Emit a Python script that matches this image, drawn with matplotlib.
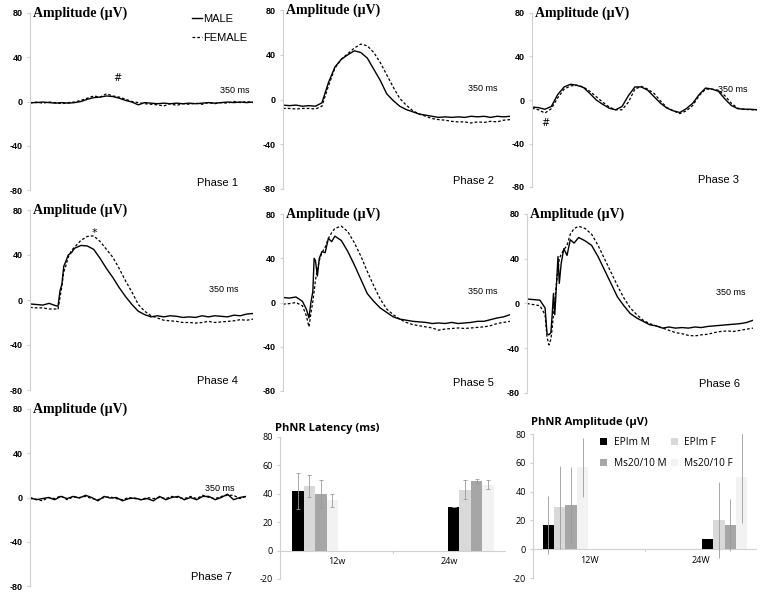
import matplotlib
matplotlib.use("Agg")
import matplotlib.pyplot as plt
import numpy as np

# ---------------- waveform data (amplitude in uV, time in ms) ----------------
t_grid = list(range(0, 351, 10))

p1_male = [-1, -1, -0.5, -1, -1.5, -1, -1.5, -1, 0, 2, 3.5, 4, 5, 4.5, 3, 1, -0.5, -3,
           -1, -1.5, -2, -1.5, -2, -1.5, -2, -1.5, -2, -1.5, -1, -1.5, -1, -0.5, -1, -0.5, -1, -0.5]
p1_female = [-1.5, -0.5, -1.5, -0.5, -1, -2, -1, -0.5, 1, 3, 5, 4, 7, 5, 4, 2, 0, -1,
             -2, -2.5, -3, -4, -2, -3.5, -2, -2.5, -1.5, -2.5, -1, -2, -1, -1.5, 0, -1, 0, -1]

p2_male = [-5, -5.5, -5, -6, -5.5, -6, -3, 15, 29, 36, 40, 43.5, 42, 37, 27, 17, 5, -1,
           -6, -9, -11, -13, -14, -15, -16, -15.5, -16, -15.5, -16, -15, -15.5, -15, -16, -15, -15.5, -15]
p2_female = [-8, -8, -8.5, -8, -8, -8.5, -6, 12, 28, 36, 41, 46, 49.5, 48, 42, 33, 22, 11,
             1, -5, -10, -13, -15, -17, -18, -18.5, -19.5, -20, -20, -21, -20, -20.5, -19.5, -20, -18.5, -18]

p3_male = [-6.5, -7, -8.5, -6, 5, 12, 14.5, 13.5, 11.5, 6, 0, -4, -7.5, -9, -6, 4, 12, 12,
           9, 3, -3, -7.5, -10, -11.5, -8, -3, 5, 11, 10, 8, 1, -5, -8, -8.5, -8.5, -9]
p3_female = [-7.5, -9, -12, -8, 2, 10, 13, 13.5, 12, 8, 3, -2, -6.5, -9, -9, -2, 10, 12.5,
             10, 6, -1, -7, -10, -12.5, -10, -5, 4, 10, 10, 9, 4, -3, -7.5, -8.5, -9, -9]

t_p4 = [0, 10, 20, 30, 40, 44, 47, 50, 53, 56, 60, 65, 70, 80, 90, 100, 110, 120, 130, 140,
        150, 160, 170, 180, 190, 200, 210, 220, 230, 240, 250, 260, 270, 280, 290, 300, 310,
        320, 330, 340, 350]
p4_male = [-3.5, -4, -4.5, -3, -5, -5.5, 8, 14, 30, 34, 40, 42, 46, 48.5, 48, 45, 37, 28, 20, 11,
           3, -4, -10, -13, -15, -14, -15, -14, -14.5, -15.5, -15, -15.5, -14, -15, -14, -14.5, -15,
           -13.5, -14, -12.5, -12]
p4_female = [-6.5, -7, -7, -8, -8, -8.5, 2, 12, 25, 30, 38, 44, 47, 53, 56.5, 57, 52, 45, 38, 28,
             17, 7, -4, -10, -14, -16, -18, -18.5, -19, -20, -20, -20.5, -20, -19, -20, -19.5, -19,
             -18.5, -17.5, -18, -17]

t_p5 = [0, 10, 20, 30, 36, 40, 43, 46, 48, 50, 53, 56, 60, 65, 70, 75, 80, 90, 100, 110, 120,
        130, 140, 150, 160, 170, 180, 190, 200, 210, 220, 230, 240, 250, 260, 270, 280, 290,
        300, 310, 320, 330, 340, 350]
p5_male = [4.5, 4, 5, 1, -6, -14, 0, 10, 40, 38, 24, 40, 46, 45, 58, 55, 60, 56, 46, 34, 21,
           8, 1, -5, -9, -13, -15, -16, -17, -17.5, -18, -19, -18.5, -19, -18, -19, -18.5, -18,
           -17, -17, -15.5, -14, -13, -11]
p5_female = [-1.5, -1, 0, -3, -12, -22, -10, 1, 10, 20, 30, 38, 45, 50, 58, 63, 67, 69, 64, 54, 42,
             28, 15, 3, -6, -11, -15, -18, -20, -21, -22, -23, -25, -24, -23.5, -23, -23.5, -23,
             -22.5, -22, -21, -19, -18, -17]

t_p6 = [0, 10, 20, 28, 31, 34, 37, 39, 41, 43, 45, 48, 50, 53, 57, 62, 67, 73, 80, 90, 100,
        110, 120, 130, 140, 150, 160, 170, 180, 190, 200, 210, 220, 230, 240, 250, 260, 270,
        280, 290, 300, 310, 320, 330, 340, 350]
p6_male = [4, 3.5, 3, -4, -27, -28, -26, -10, 9, -10, 10, 42, 18, 36, 49, 43, 57, 54, 59, 56, 52,
           42, 30, 18, 6, -2, -9, -13, -16, -19, -20, -22, -21, -22, -21.5, -22, -21, -21.5,
           -20.5, -20, -19.5, -19, -18.5, -18, -17, -15]
p6_female = [0, -1, -2, -10, -30, -37, -32, -22, -10, 2, 15, 30, 40, 44, 48, 52, 62, 67, 69, 67, 62,
             52, 40, 28, 16, 5, -4, -10, -15, -18, -20, -22, -24, -26, -27, -28.5, -29, -28,
             -27.5, -26, -25, -24.5, -25, -24, -23, -22]

p7_male = [0, -2, -1, 0, -2, 1, -1, 1, -0.5, 2, 0, -3, 1, -0.5, 0, -3, -1, -0.5,
           -2, -1, -3, 1, -2, 0, 1, -2, 0, -2, 1, 1, -2, 0, 3, -2, 0, 1]
p7_female = [-1, -1.5, -3, 0, -1, 1.5, -2, 0.5, 0, 1, -1, -2, 0, 0.5, -1, -2, 0, -1,
             -2, 0, -1, 0, -1, 1, 0, -1, 1, -1, 2, 0, -1, 1, 2, 2, -1, 1]

# ---------------- bar chart data ----------------
weeks_lat = ["12w", "24w"]
weeks_amp = ["12W", "24W"]
groups = ["EPIm M", "EPIm F", "Ms20/10 M", "Ms20/10 F"]
group_colors = ["#000000", "#d9d9d9", "#a6a6a6", "#f2f2f2"]
latency = [[42, 31], [45.5, 43], [40, 49], [35.5, 46.5]]
latency_err = [[13, 0], [7.5, 7], [10, 1.5], [4.5, 3]]
amplitude = [[17, 7], [29, 20.5], [30.5, 17], [57, 50]]
amplitude_err = [[20, 0], [29, 26.5], [26.5, 18], [20.5, 32]]

W, H = 760, 592
fig = plt.figure(figsize=(W / 100, H / 100), dpi=100)

TICKFONT = dict(family="Liberation Sans", size=6.5, weight="bold")
GRAY = "#d0d0d0"


def px_axes(left, right, top, bottom):
    return fig.add_axes([left / W, 1 - bottom / H, (right - left) / W, (bottom - top) / H])


def wave_panel(box, t, male, female, phase, ms_xy, phase_xy):
    ax = px_axes(*box)
    ax.plot(t, male, color="black", lw=1.0)
    ax.plot(t, female, color="black", lw=0.9, ls=(0, (2.2, 1.6)))
    ax.set_xlim(0, 350)
    ax.set_ylim(-80, 80)
    ax.set_yticks([-80, -40, 0, 40, 80])
    ax.set_yticklabels(["-80", "-40", "0", "40", "80"], **TICKFONT)
    ax.set_xticks([])
    for s in ["top", "right", "bottom"]:
        ax.spines[s].set_visible(False)
    ax.spines["left"].set_color(GRAY)
    ax.spines["left"].set_linewidth(0.8)
    ax.tick_params(axis="y", length=2, color=GRAY, pad=3)
    ax.patch.set_alpha(0)
    ax.text(0.015, 1.0, "Amplitude (\u00b5V)", transform=ax.transAxes, ha="left", va="center",
            family="Liberation Serif", weight="bold", fontsize=10)
    ax.text(ms_xy[0], ms_xy[1], "350 ms", transform=ax.transAxes, ha="center", va="center",
            family="Liberation Sans", fontsize=6.5)
    ax.text(phase_xy[0], phase_xy[1], phase, transform=ax.transAxes, ha="center", va="center",
            family="Liberation Sans", fontsize=8)
    return ax


ax1 = wave_panel((30, 253, 13, 190), t_grid, p1_male, p1_female, "Phase 1", (0.92, 0.56), (0.84, 0.04))
ax1.text(0.39, 0.63, "#", transform=ax1.transAxes, ha="center", va="center", fontsize=7)
ax1.plot([], [], color="black", lw=1.0, label="MALE")
ax1.plot([], [], color="black", lw=0.9, ls=(0, (2.2, 1.6)), label="FEMALE")
h, l = ax1.get_legend_handles_labels()
ax1.legend(h[-2:], l[-2:], loc="upper left", bbox_to_anchor=(0.68, 1.05), frameon=False,
           handlelength=0.9, handletextpad=0.1, labelspacing=0.8,
           prop=dict(family="Liberation Sans", size=8))

wave_panel((283, 510, 10, 189), t_grid, p2_male, p2_female, "Phase 2", (0.88, 0.56), (0.84, 0.045))
ax3 = wave_panel((532, 757, 13, 187), t_grid, p3_male, p3_female, "Phase 3", (0.89, 0.56), (0.83, 0.04))
ax3.text(0.06, 0.37, "#", transform=ax3.transAxes, ha="center", va="center", fontsize=7)
ax4 = wave_panel((30, 253, 210, 390), t_p4, p4_male, p4_female, "Phase 4", (0.87, 0.56), (0.84, 0.05))
ax4.text(0.29, 0.87, "*", transform=ax4.transAxes, ha="center", va="center", fontsize=8)
wave_panel((283, 510, 214, 391), t_p5, p5_male, p5_female, "Phase 5", (0.88, 0.56), (0.84, 0.045))
wave_panel((527, 753, 214, 393), t_p6, p6_male, p6_female, "Phase 6", (0.90, 0.56), (0.85, 0.05))
wave_panel((30, 246, 409, 586), t_grid, p7_male, p7_female, "Phase 7", (0.88, 0.55), (0.84, 0.05))


def bar_panel(box, cats, vals, errs, title, title_xy, offset, caps, legend=False):
    ax = px_axes(*box)
    x = np.arange(len(cats))
    bw = 0.102
    handles = []
    for i, (v, e, c, g) in enumerate(zip(vals, errs, group_colors, groups)):
        pos = x + np.array([-offset, offset]) + (i - 1.5) * bw
        b = ax.bar(pos, v, width=bw, color=c, label=g, zorder=2)
        handles.append(b)
        ax.errorbar(pos, v, yerr=e, fmt="none", ecolor="#9a9a9a", elinewidth=0.6,
                    capsize=caps, capthick=0.6, zorder=3)
    ax.set_xlim(-0.5, 1.5)
    ax.set_ylim(-20, 80)
    ax.set_yticks([-20, 0, 20, 40, 60, 80])
    ax.set_yticklabels(["-20", "0", "20", "40", "60", "80"], family="Open Sans", size=6.5)
    ax.set_xticks(x)
    ax.set_xticklabels(cats, family="Open Sans", size=6.5)
    ax.tick_params(axis="x", length=0, pad=-16)
    ax.tick_params(axis="y", length=2, color=GRAY, pad=3)
    for s in ["top", "right", "bottom"]:
        ax.spines[s].set_visible(False)
    ax.spines["left"].set_color(GRAY)
    ax.axhline(0, color=GRAY, lw=0.8, zorder=1)
    ax.plot([0.5, 0.5], [0, -1.5], color=GRAY, lw=0.8, clip_on=False)
    ax.text(title_xy[0], title_xy[1], title, transform=ax.transAxes, ha="left", va="center",
            family="Open Sans", weight="bold", fontsize=8)
    ax.patch.set_alpha(0)
    if legend:
        # ncol fills column-wise, so interleave to get rows EPIm M / EPIm F, Ms M / Ms F
        order = [0, 2, 1, 3]
        ax.legend([handles[k] for k in order], [groups[k] for k in order],
                  loc="upper left", bbox_to_anchor=(0.26, 1.04), ncol=2, frameon=False,
                  handlelength=0.7, handleheight=0.7, handletextpad=0.6, columnspacing=0.5,
                  labelspacing=0.95, prop=dict(family="Open Sans", size=7.3))
    return ax


bar_panel((280, 506, 437, 579), weeks_lat, latency, latency_err, "PhNR Latency (ms)",
          (-0.022, 1.063), 0.19, 1.2)
bar_panel((533, 757, 434, 578), weeks_amp, amplitude, amplitude_err, "PhNR Amplitude (\u00b5V)",
          (-0.01, 1.083), 0.21, 0, legend=True)

fig.savefig("out.png", dpi=100)
